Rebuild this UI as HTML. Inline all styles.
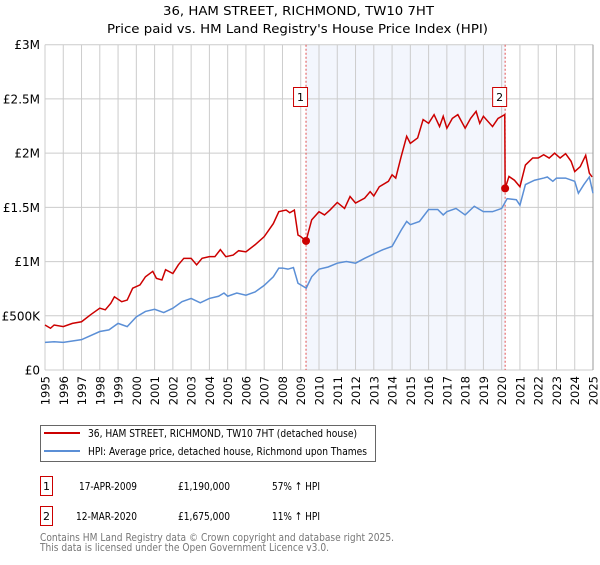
<!DOCTYPE html>
<html><head><meta charset="utf-8"><style>
body{margin:0;background:#fff;font-family:"Liberation Sans","DejaVu Sans",sans-serif;}
svg text{font-family:"DejaVu Sans","Liberation Sans",sans-serif;}
</style></head><body>
<svg id="chart" width="600" height="560" viewBox="0 0 600 560" xmlns="http://www.w3.org/2000/svg">
<text x="298.5" y="15" text-anchor="middle" font-size="12.5" fill="#000" textLength="271" lengthAdjust="spacingAndGlyphs">36, HAM STREET, RICHMOND, TW10 7HT</text>
<text x="297.5" y="33" text-anchor="middle" font-size="12.5" fill="#000" textLength="381" lengthAdjust="spacingAndGlyphs">Price paid vs. HM Land Registry's House Price Index (HPI)</text>
<g id="plot"></g>
<g>
<rect x="40.5" y="425.5" width="335" height="36" fill="#fff" stroke="#666"/>
<line x1="44" y1="433" x2="80" y2="433" stroke="#cc0000" stroke-width="2"/>
<text x="88" y="437" font-size="11" fill="#000" textLength="269" lengthAdjust="spacingAndGlyphs">36, HAM STREET, RICHMOND, TW10 7HT (detached house)</text>
<line x1="44" y1="451" x2="80" y2="451" stroke="#5b8fd6" stroke-width="2"/>
<text x="88" y="455" font-size="11" fill="#000" textLength="279" lengthAdjust="spacingAndGlyphs">HPI: Average price, detached house, Richmond upon Thames</text>
</g>
<g font-size="11" fill="#000">
<rect x="40.5" y="476.5" width="12" height="19" fill="#fff" stroke="#cc0000"/>
<text x="46.5" y="490" text-anchor="middle">1</text>
<text x="137" y="490" text-anchor="end" textLength="58" lengthAdjust="spacingAndGlyphs">17-APR-2009</text>
<text x="230" y="490" text-anchor="end" textLength="52" lengthAdjust="spacingAndGlyphs">£1,190,000</text>
<text x="272" y="490" textLength="48" lengthAdjust="spacingAndGlyphs">57% ↑ HPI</text>
<rect x="40.5" y="506.5" width="12" height="19" fill="#fff" stroke="#cc0000"/>
<text x="46.5" y="520" text-anchor="middle">2</text>
<text x="137" y="520" text-anchor="end" textLength="61" lengthAdjust="spacingAndGlyphs">12-MAR-2020</text>
<text x="230" y="520" text-anchor="end" textLength="52" lengthAdjust="spacingAndGlyphs">£1,675,000</text>
<text x="272" y="520" textLength="48" lengthAdjust="spacingAndGlyphs">11% ↑ HPI</text>
</g>
<text x="40" y="541" font-size="11" fill="#777" textLength="354" lengthAdjust="spacingAndGlyphs">Contains HM Land Registry data © Crown copyright and database right 2025.</text>
<text x="40" y="551" font-size="11" fill="#777" textLength="289" lengthAdjust="spacingAndGlyphs">This data is licensed under the Open Government Licence v3.0.</text>
</svg>
<script>
const yTicks=[0,500000,1000000,1500000,2000000,2500000,3000000];
const yTickLabels=["£0","£500K","£1M","£1.5M","£2M","£2.5M","£3M"];
const years=[1995,1996,1997,1998,1999,2000,2001,2002,2003,2004,2005,2006,2007,2008,2009,2010,2011,2012,2013,2014,2015,2016,2017,2018,2019,2020,2021,2022,2023,2024,2025];
const hpiDates=[1995.0,1995.5,1996.0,1997.0,1998.0,1998.5,1999.0,1999.5,2000.0,2000.5,2001.0,2001.5,2002.0,2002.5,2003.0,2003.5,2004.0,2004.5,2004.8,2005.0,2005.5,2006.0,2006.5,2007.0,2007.5,2007.8,2008.0,2008.3,2008.6,2008.85,2009.0,2009.3,2009.6,2010.0,2010.5,2011.0,2011.5,2012.0,2012.5,2013.0,2013.5,2014.0,2014.5,2014.8,2015.0,2015.5,2016.0,2016.5,2016.8,2017.0,2017.5,2018.0,2018.5,2019.0,2019.5,2020.0,2020.3,2020.8,2021.0,2021.3,2021.8,2022.3,2022.5,2022.8,2023.0,2023.5,2024.0,2024.2,2024.5,2024.8,2025.0];
const hpiValues=[255,260,255,280,355,370,430,400,490,540,560,530,570,630,660,620,660,680,710,680,710,690,720,780,860,940,940,930,945,800,785,755,860,930,950,985,1000,985,1030,1070,1110,1140,1290,1370,1340,1370,1480,1480,1430,1460,1490,1430,1510,1460,1460,1490,1580,1570,1520,1710,1750,1770,1780,1740,1770,1770,1740,1630,1710,1780,1630];
const priceDates=[1995.0,1995.3,1995.5,1996.0,1996.5,1997.0,1997.5,1998.0,1998.3,1998.6,1998.8,1999.2,1999.5,1999.8,2000.2,2000.5,2000.9,2001.1,2001.4,2001.6,2002.0,2002.3,2002.6,2003.0,2003.3,2003.6,2004.0,2004.3,2004.6,2004.9,2005.3,2005.6,2006.0,2006.5,2007.0,2007.5,2007.8,2008.2,2008.4,2008.65,2008.85,2009.0,2009.29,2009.6,2010.0,2010.3,2010.6,2011.0,2011.4,2011.7,2012.0,2012.5,2012.8,2013.0,2013.3,2013.8,2014.0,2014.2,2014.5,2014.8,2015.0,2015.4,2015.7,2016.0,2016.3,2016.6,2016.8,2017.0,2017.3,2017.6,2018.0,2018.3,2018.6,2018.8,2019.0,2019.5,2019.8,2020.17,2020.19,2020.4,2020.7,2021.0,2021.3,2021.7,2022.0,2022.3,2022.6,2022.9,2023.2,2023.5,2023.8,2024.0,2024.3,2024.6,2024.8,2024.95];
const priceValues=[415,385,415,400,430,445,510,570,555,615,675,630,645,755,785,860,910,845,830,925,890,970,1030,1030,970,1030,1045,1045,1110,1045,1060,1100,1090,1155,1230,1350,1460,1475,1450,1475,1245,1230,1190,1385,1460,1430,1475,1545,1490,1600,1540,1585,1645,1605,1690,1740,1800,1770,1970,2155,2090,2140,2310,2275,2355,2245,2340,2230,2320,2355,2230,2320,2385,2275,2340,2245,2320,2355,1675,1785,1750,1690,1890,1955,1955,1985,1955,2000,1955,1995,1925,1830,1875,1980,1815,1780];
const saleDates=[2009.29,2020.19];
const saleValues=[1190,1675];
const saleLabels=["1","2"];

const X0=45,X1=593,Y0=370,Y1=44.7;
const xs=t=>X0+(t-1995)/30*(X1-X0);
const ys=v=>Y0-v/3000000*(Y0-Y1);
const NS="http://www.w3.org/2000/svg";
const plot=document.getElementById('plot');
function mk(tag,attrs,parent){const e=document.createElementNS(NS,tag);for(const k in attrs)e.setAttribute(k,attrs[k]);(parent||plot).appendChild(e);return e;}

const shade=mk('rect',{x:xs(saleDates[0]),y:Y1,width:xs(saleDates[1])-xs(saleDates[0]),height:Y0-Y1,fill:'#f3f6fd'});


years.forEach(y=>{
  const l=mk('line',{x1:xs(y),x2:xs(y),y1:Y1,y2:Y0,stroke:'#cccccc','stroke-width':1});
  
  
  const t=mk('text',{x:0,y:0,transform:`translate(${xs(y)+4.5},${Y0+6}) rotate(-90)`,'text-anchor':'end','font-size':11.5,fill:'#000'});
  t.textContent=y;
  
  
});
yTicks.forEach((v,i)=>{
  const l=mk('line',{x1:X0,x2:X1,y1:ys(v),y2:ys(v),stroke:'#cccccc','stroke-width':1});
  
  
  const t=mk('text',{x:40,y:ys(v)+4.5,'text-anchor':'end','font-size':12,fill:'#000'});
  t.textContent=yTickLabels[i];
  
  
});
const rb=mk('line',{x1:X1,x2:X1,y1:Y1,y2:Y0,stroke:'#999','stroke-width':1});


saleDates.forEach(d=>{
  const l=mk('line',{x1:xs(d),x2:xs(d),y1:Y1,y2:Y0,stroke:'#e05050','stroke-width':1,'stroke-dasharray':'2,2'});
  
  
});
const hp=mk('polyline',{points:hpiDates.map((d,i)=>xs(d)+','+ys(hpiValues[i]*1000)).join(' '),fill:'none',stroke:'#5b8fd6','stroke-width':1.5});


const pp=mk('polyline',{points:priceDates.map((d,i)=>xs(d)+','+ys(priceValues[i]*1000)).join(' '),fill:'none',stroke:'#cc0000','stroke-width':1.5});


saleDates.forEach((d,i)=>{
  const c=mk('circle',{cx:xs(d),cy:ys(saleValues[i]*1000),r:4,fill:'#cc0000'});
  
  
  const r=mk('rect',{x:xs(d)-12.5,y:87.5,width:14,height:19,fill:'#fff',stroke:'#cc0000'});
  
  
  const t=mk('text',{x:xs(d)-5.5,y:101,'text-anchor':'middle','font-size':11,fill:'#000'});
  t.textContent=saleLabels[i];
  
  
});
</script>
</body></html>
